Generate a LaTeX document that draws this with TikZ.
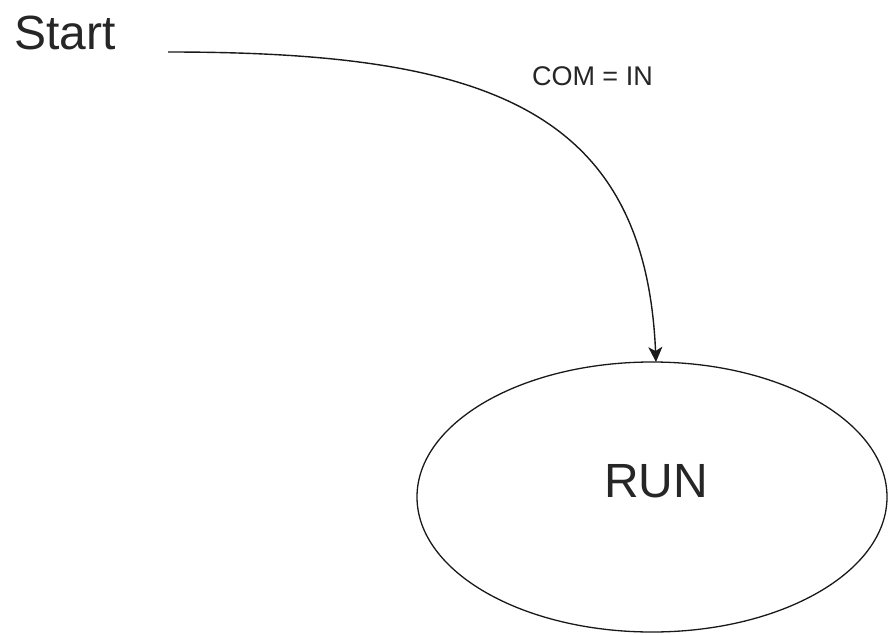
\documentclass[tikz,border=0pt]{standalone}
\usepackage{fontspec}
\setmainfont{Liberation Sans}
\usetikzlibrary{shapes.geometric,arrows.meta}
\begin{document}
\begin{tikzpicture}[x=1pt,y=-1pt,
  lbl/.style={inner sep=0pt,outer sep=0pt,anchor=base west,text=black!85},
  state/.style={ellipse,draw=black!90,line width=1.3pt,inner sep=0pt,outer sep=0pt},
  trans/.style={draw=black!90,line width=1.4pt,-{Stealth[length=15pt,width=14pt,inset=4pt]}}]
  \useasboundingbox (0,0) rectangle (888,634);
  % labels
  \node[lbl,font=\fontsize{48}{52}\selectfont] (start) at (14,50) {Start};
  \node[lbl,font=\fontsize{27}{30}\selectfont] (cond) at (532,85) {COM = IN};
  % state
  \node[state,minimum width=470pt,minimum height=270pt] (run) at (652,497) {};
  \node[lbl,font=\fontsize{48}{52}\selectfont] (runtext) at (604,497) {RUN};
  % transition
  \coordinate (src) at (168,52);
  \draw[trans] (src) .. controls (480,52) and (645,105) .. ([xshift=4pt]run.north);
\end{tikzpicture}
\end{document}
